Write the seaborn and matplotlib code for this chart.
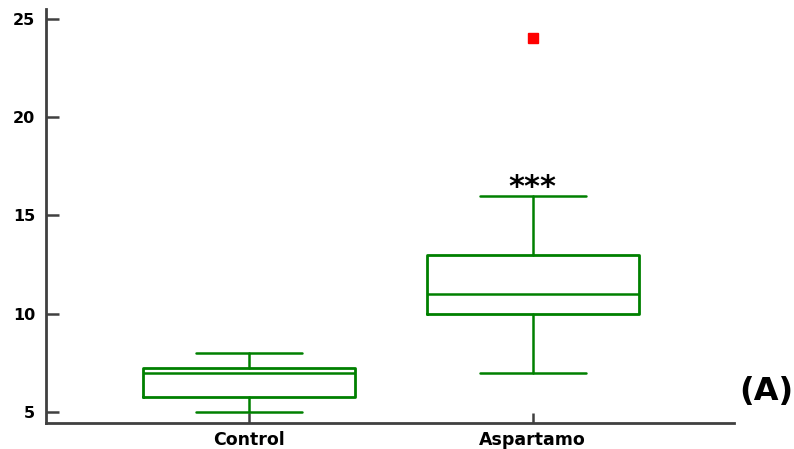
import numpy as np
import matplotlib
matplotlib.use("Agg")
import matplotlib.pyplot as plt
import seaborn as sns

# box summaries
groups = ["Control", "Aspartamo"]
whisker_low = [5.0, 7.0]
q1 = [5.75, 10.0]
median = [7.0, 11.0]
q3 = [7.25, 13.0]
whisker_high = [8.0, 16.0]
outliers = [[], [24.0]]
y_ticks = [5, 10, 15, 20, 25]

GREEN = "#008000"
AXIS = "#404040"

sns.set_style("white")
plt.rcParams["font.family"] = ["DejaVu Sans"]

stats = []
for i, name in enumerate(groups):
    stats.append(dict(label=name, whislo=whisker_low[i], q1=q1[i], med=median[i],
                      q3=q3[i], whishi=whisker_high[i], fliers=outliers[i]))

fig = plt.figure(figsize=(7.94, 4.49), dpi=100)
ax = fig.add_axes([0.058, 0.058, 0.866, 0.922])

ax.bxp(stats, positions=np.arange(len(groups)), widths=0.746,
       showfliers=True, patch_artist=False,
       boxprops=dict(color=GREEN, linewidth=2.0),
       medianprops=dict(color=GREEN, linewidth=1.8),
       whiskerprops=dict(color=GREEN, linewidth=1.8),
       capprops=dict(color=GREEN, linewidth=1.8),
       flierprops=dict(marker="s", markerfacecolor="red", markeredgecolor="red",
                       markersize=6.5, linestyle="none"))

ax.set_xlim(-0.715, 1.708)
ax.set_ylim(4.44, 25.5)
ax.set_yticks(y_ticks)
ax.set_xticks(np.arange(len(groups)))
ax.set_xticklabels(groups)

for side in ["top", "right"]:
    ax.spines[side].set_visible(False)
for side in ["left", "bottom"]:
    ax.spines[side].set_color(AXIS)
    ax.spines[side].set_linewidth(2.0)

ax.tick_params(axis="y", left=True, direction="in", length=9, width=1.8, color=AXIS,
               labelsize=11.5, labelcolor="black", pad=8)
ax.tick_params(axis="x", bottom=True, direction="in", length=7, width=1.8, color=AXIS,
               labelsize=12.5, labelcolor="black", pad=6)
for lab in ax.get_xticklabels() + ax.get_yticklabels():
    lab.set_fontweight("bold")

ax.text(1, whisker_high[1] - 0.3, "***", ha="center", va="bottom",
        fontsize=22, fontweight="bold", color="black")
fig.text(0.9645, 0.127, "(A)", ha="center", va="center",
         fontsize=23, fontweight="bold", color="black")

fig.savefig("out.png", dpi=100)
